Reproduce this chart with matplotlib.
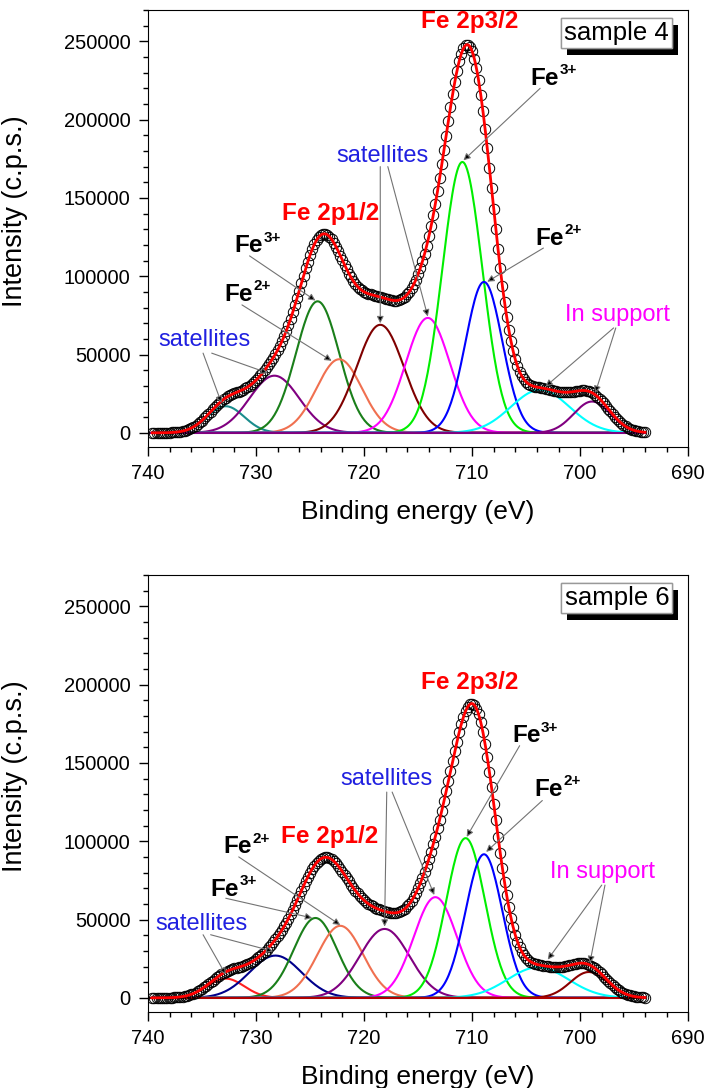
import numpy as np
import matplotlib
matplotlib.use('Agg')
from matplotlib import pyplot as plt
from matplotlib import patheffects
from matplotlib.ticker import MultipleLocator

plt.rcParams['font.family'] = ['Liberation Sans', 'DejaVu Sans']

# fitted components: centre (eV), height (c.p.s.), sigma (eV)
centre_s4 = [732.8, 728.3, 724.3, 722.3, 718.5, 714.1, 710.9, 708.9, 703.7, 698.9]
height_s4 = [17000, 36500, 84000, 47000, 69000, 73400, 173000, 96400, 27500, 20000]
sigma_s4 = [1.7, 2.3, 2.0, 2.1, 2.2, 2.05, 1.85, 1.7, 2.7, 1.7]
colors_s4 = ['#1a8c8c', '#800080', '#1a7f1a', '#f07050', '#7f0000',
             '#ff00ff', '#00ee00', '#0000ff', '#00ffff', '#800080']

centre_s6 = [732.8, 728.2, 724.5, 722.2, 718.1, 713.4, 710.6, 708.9, 703.9, 699.2]
height_s6 = [12300, 27000, 51000, 46000, 44000, 64300, 102000, 91700, 19500, 16500]
sigma_s6 = [1.7, 2.4, 2.0, 2.1, 2.3, 2.0, 1.8, 1.7, 2.8, 1.7]
colors_s6 = ['#ff2020', '#00008b', '#1a7f1a', '#f07050', '#800080',
             '#ff00ff', '#00ee00', '#0000ff', '#00ffff', '#8b0000']

e_start, e_end = 739.6, 694.0
xticks = [740, 730, 720, 710, 700, 690]
yticks = [0, 50000, 100000, 150000, 200000, 250000]


def component(x, c, h, s):
    return h * np.exp(-(x - c) ** 2 / (2 * s ** 2))


def draw_panel(ax, centres, heights, sigmas, colors, base_color, sample):
    x = np.linspace(e_start, e_end, 400)
    envelope = np.zeros_like(x)
    for c, h, s, col in zip(centres, heights, sigmas, colors):
        y = component(x, c, h, s)
        envelope += y
        ax.plot(x, y, color=col, lw=1.5, zorder=2)
    ax.plot([740, e_end], [0, 0], color=base_color, lw=1.5, zorder=2)
    xm = np.arange(e_start, e_end - 0.01, -0.2)
    ym = np.interp(xm, x[::-1], envelope[::-1])
    ax.plot(xm, ym, 'o', mfc='none', mec='black', mew=0.7, ms=7.5, zorder=3)
    ax.plot(x, envelope, color='red', lw=2, zorder=4)

    ax.set_xlim(740, 690)
    ax.set_ylim(-9000, 270000)
    ax.set_xticks(xticks)
    ax.set_yticks(yticks)
    ax.xaxis.set_minor_locator(MultipleLocator(2))
    ax.yaxis.set_minor_locator(MultipleLocator(10000))
    ax.tick_params(which='both', direction='out', top=False, right=False, width=1)
    ax.tick_params(which='major', length=6.5, pad=6, labelsize=14.5)
    ax.tick_params(which='minor', length=3.6)
    ax.set_xlabel('Binding energy (eV)', fontsize=19, labelpad=12)
    ax.set_ylabel('Intensity (c.p.s.)', fontsize=19.5)
    ax.yaxis.set_label_coords(-0.222, 0.54)

    t = ax.text(696.6, 255500, sample, fontsize=18.5, ha='center', va='center', zorder=6,
                bbox=dict(boxstyle='square,pad=0.12', fc='white', ec='0.6', lw=1))
    t.get_bbox_patch().set_path_effects([
        patheffects.withSimplePatchShadow(offset=(4, -5), shadow_rgbFace='black', alpha=1.0),
        patheffects.Normal()])


def ion(ax, x, y, charge):
    fe = ax.text(x, y, 'Fe', color='black', fontsize=17.5, fontweight='bold',
                 ha='left', va='baseline', zorder=6)
    ax.annotate(charge, xy=(1.02, 0.55), xycoords=fe, fontsize=11, fontweight='bold',
                ha='left', va='bottom', zorder=6)


def arrow(ax, start, tip):
    ax.annotate('', xy=tip, xytext=start, zorder=5,
                arrowprops=dict(arrowstyle='-|>', ec='0.45', fc='black', lw=0.8,
                                mutation_scale=10, shrinkA=0, shrinkB=0))


fig, (ax1, ax2) = plt.subplots(2, 1, figsize=(7.08, 10.88), dpi=100)
ax1.set_position([0.209, 0.5892, 0.763, 0.4016])
ax2.set_position([0.209, 0.0699, 0.763, 0.4016])

draw_panel(ax1, centre_s4, height_s4, sigma_s4, colors_s4, '#800080', 'sample 4')
draw_panel(ax2, centre_s6, height_s6, sigma_s6, colors_s6, '#b00000', 'sample 6')

red = dict(color='red', fontsize=17.5, fontweight='bold', ha='center', va='center', zorder=6)
blue = dict(color='#2020e0', fontsize=17, ha='center', va='center', zorder=6)
pink = dict(color='#ff00ff', fontsize=17, ha='center', va='center', zorder=6)

# sample 4
ax1.text(710.2, 262500, 'Fe 2p3/2', **red)
ax1.text(723.1, 140000, 'Fe 2p1/2', **red)
ion(ax1, 704.6, 222400, '3+')
ion(ax1, 704.1, 119900, '2+')
ion(ax1, 732.0, 115200, '3+')
ion(ax1, 732.9, 84500, '2+')
ax1.text(718.3, 176600, 'satellites', **blue)
ax1.text(734.8, 59000, 'satellites', **blue)
ax1.text(696.5, 75300, 'In support', **pink)
arrow(ax1, (703.7, 220000), (710.8, 174000))
arrow(ax1, (703.4, 118000), (708.6, 96500))
arrow(ax1, (718.5, 170000), (718.5, 70000))
arrow(ax1, (717.8, 170000), (714.1, 74300))
arrow(ax1, (730.6, 113000), (724.5, 84500))
arrow(ax1, (731.3, 81700), (723.0, 46000))
arrow(ax1, (734.9, 50900), (733.2, 19100))
arrow(ax1, (734.1, 50900), (728.9, 38200))
arrow(ax1, (696.9, 67000), (703.2, 29600))
arrow(ax1, (696.7, 67000), (698.6, 25500))

# sample 6
ax2.text(710.2, 201300, 'Fe 2p3/2', **red)
ax2.text(723.2, 102800, 'Fe 2p1/2', **red)
ion(ax2, 706.3, 163100, '3+')
ion(ax2, 704.2, 128800, '2+')
ion(ax2, 733.0, 92200, '2+')
ion(ax2, 734.2, 65300, '3+')
ax2.text(717.9, 139800, 'satellites', **blue)
ax2.text(735.0, 47000, 'satellites', **blue)
ax2.text(697.9, 80500, 'In support', **pink)
arrow(ax2, (705.6, 161000), (710.5, 102800))
arrow(ax2, (703.5, 126000), (708.7, 93200))
arrow(ax2, (717.9, 131400), (718.1, 45500))
arrow(ax2, (717.4, 131400), (713.5, 65700))
arrow(ax2, (731.6, 90000), (722.2, 46500))
arrow(ax2, (732.8, 63600), (724.8, 51000))
arrow(ax2, (734.9, 40300), (732.8, 14800))
arrow(ax2, (734.2, 40300), (728.4, 29700))
arrow(ax2, (698.0, 72000), (703.0, 24400))
arrow(ax2, (697.7, 72000), (699.1, 22200))

plt.savefig('out.png', dpi=100)
